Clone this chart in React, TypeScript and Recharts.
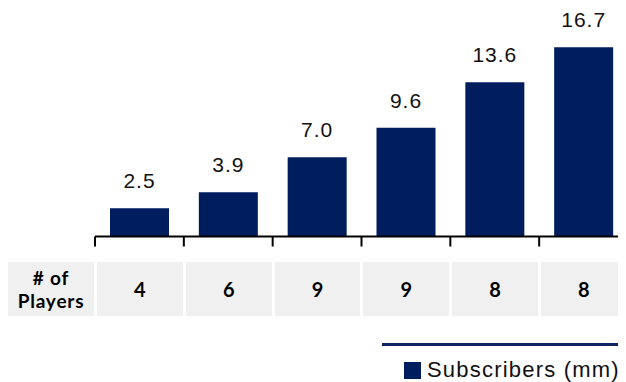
import { Bar, BarChart, LabelList, XAxis, YAxis } from "recharts";

const periods = ["P1", "P2", "P3", "P4", "P5", "P6"];
const subscribers = [2.5, 3.9, 7.0, 9.6, 13.6, 16.7];
const players = [4, 6, 9, 9, 8, 8];

const NAVY = "#001E5E";

const data = periods.map((p, i) => ({ period: p, subs: subscribers[i] }));

// tick marks sit on the category boundaries, not under the bars
function BoundaryTick(props: any) {
  const { x, y, width } = props;
  const half = width / (2 * periods.length);
  return (
    <line x1={x - half} x2={x - half} y1={y} y2={y + 10} stroke="#000" strokeWidth={2} />
  );
}

const cellStyle: React.CSSProperties = {
  background: "#f0f0f0",
  height: 54,
  display: "flex",
  alignItems: "center",
  justifyContent: "center",
  fontFamily: "Lato, sans-serif",
  fontWeight: 700,
  color: "#000",
  flex: "0 0 auto",
};

export default function App() {
  return (
    <div style={{ position: "relative", width: 618, height: 374, overflow: "hidden" }}>
      <BarChart
        width={626}
        height={240}
        data={data}
        margin={{ top: 24.5, right: 6, bottom: 0, left: 87 }}
      >
        <XAxis
          dataKey="period"
          height={11.5}
          tickLine={false}
          tickSize={0}
          tickMargin={0}
          interval={0}
          tick={<BoundaryTick />}
          axisLine={{ stroke: "#000", strokeWidth: 2 }}
        />
        <YAxis hide domain={[0, 18]} />
        <Bar dataKey="subs" fill={NAVY} barSize={59} isAnimationActive={false}>
          <LabelList
            dataKey="subs"
            position="top"
            offset={20}
            formatter={(v: number) => v.toFixed(1)}
            fill="#111"
            fontSize={21}
            fontFamily="'Liberation Sans', Arial, sans-serif"
            letterSpacing={1}
          />
        </Bar>
      </BarChart>

      {/* # of players row */}
      <div style={{ position: "absolute", left: 0, top: 254, display: "flex", gap: 3 }}>
        <div style={{ ...cellStyle, width: 86, fontSize: 19, lineHeight: "23px", textAlign: "center", letterSpacing: 0.8 }}>
          # of
          <br />
          Players
        </div>
        {players.map((n, i) => (
          <div key={i} style={{ ...cellStyle, width: 85.8, fontSize: 20 }}>
            {n}
          </div>
        ))}
      </div>

      {/* legend */}
      <div
        style={{
          position: "absolute",
          left: 374,
          top: 334.5,
          width: 260,
          height: 3,
          background: "#0F2463",
        }}
      />
      <div
        style={{
          position: "absolute",
          left: 396,
          top: 349,
          display: "flex",
          alignItems: "center",
          fontFamily: "'Liberation Sans', Arial, sans-serif",
          fontSize: 22,
          letterSpacing: 1.2,
          color: "#111",
          whiteSpace: "nowrap",
        }}
      >
        <span style={{ width: 17, height: 17, background: NAVY, display: "inline-block", marginRight: 6 }} />
        Subscribers (mm)
      </div>
    </div>
  );
}
